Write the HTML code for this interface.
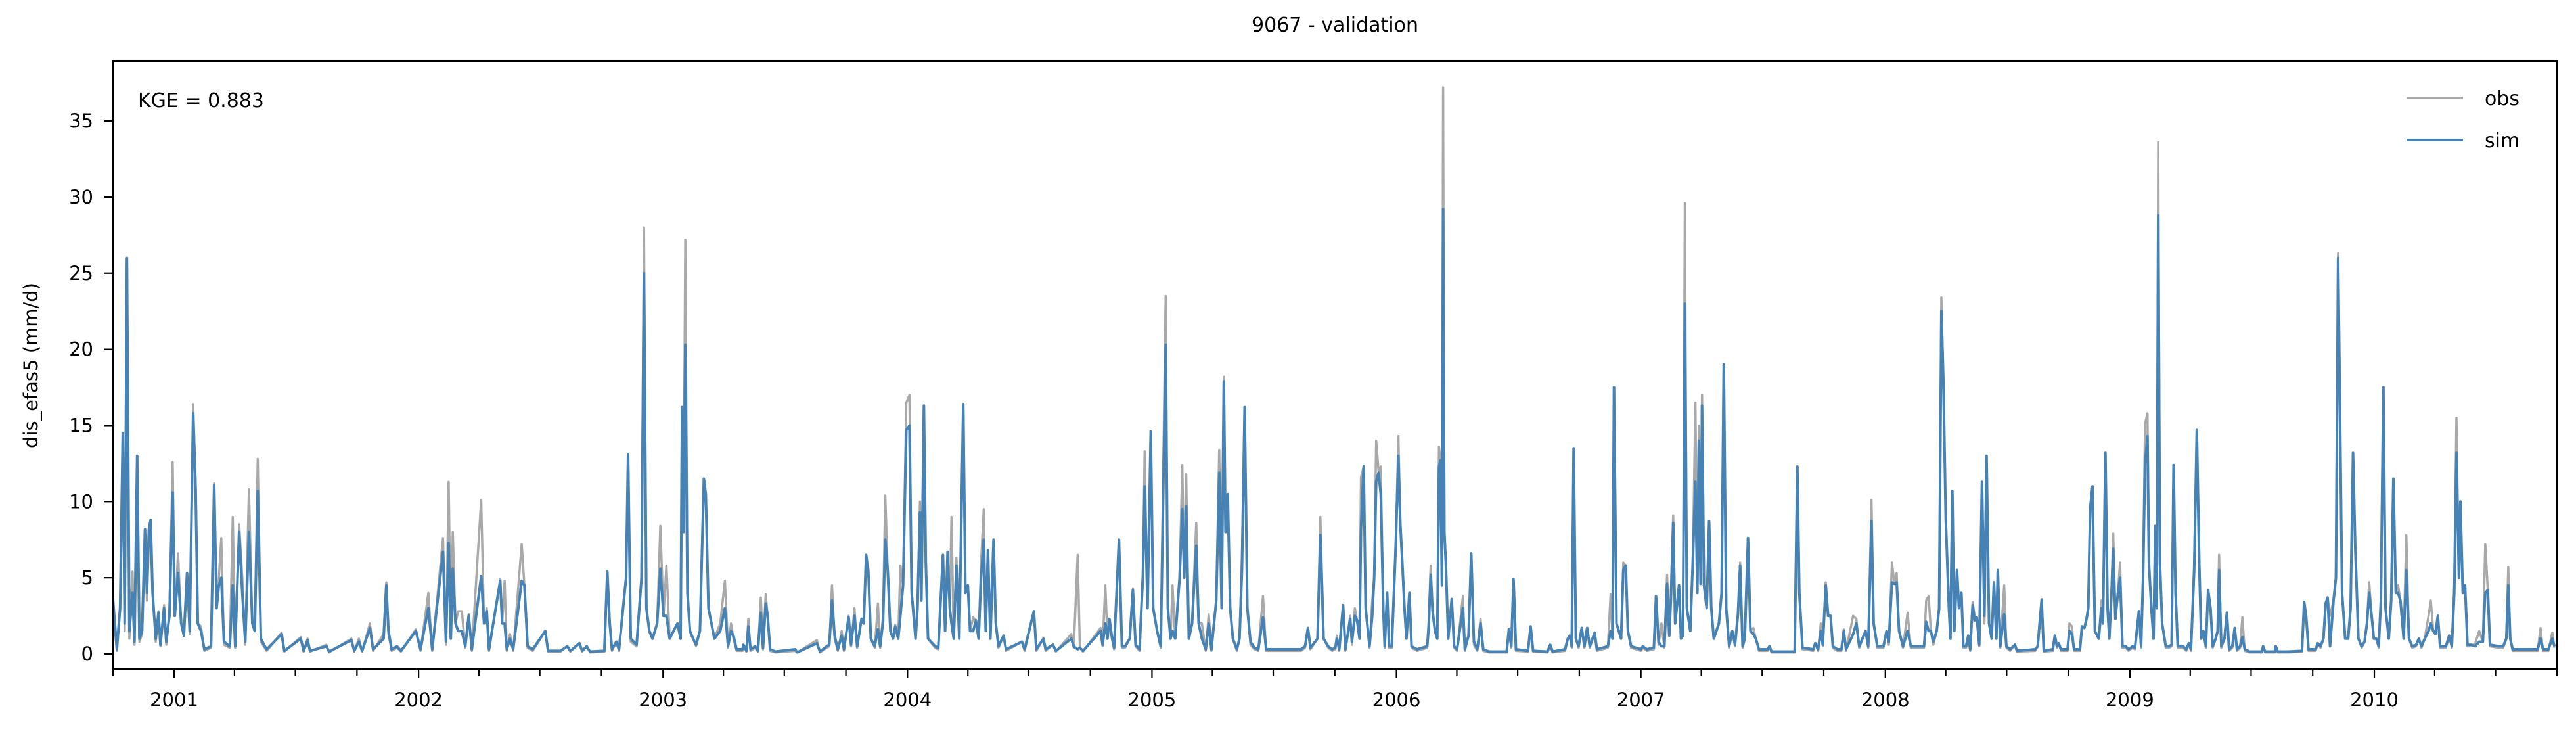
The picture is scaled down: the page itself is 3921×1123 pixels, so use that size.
<!DOCTYPE html>
<html><head><meta charset="utf-8"><style>
html,body{margin:0;padding:0;background:#fff;}
svg text{font-family:"DejaVu Sans","Liberation Sans",sans-serif;fill:#000;}
</style></head><body>
<svg id="chart" width="3921" height="1118" viewBox="0 0 3921 1118" xmlns="http://www.w3.org/2000/svg">
<rect width="3921" height="1118" fill="#fff"/>
<text x="2032" y="48" font-size="30" text-anchor="middle">9067 - validation</text>
<defs><clipPath id="plotclip"><rect x="172" y="93" width="3720" height="925"/></clipPath></defs>
<g id="series" clip-path="url(#plotclip)"></g>
<g id="axes"></g>
<rect x="172" y="93" width="3720" height="925" fill="none" stroke="#000" stroke-width="2.5"/>
<text x="210" y="163" font-size="30">KGE = 0.883</text>
<text transform="translate(57,556) rotate(-90)" font-size="29" text-anchor="middle">dis_efas5 (mm/d)</text>
<g>
<line x1="3663" y1="149" x2="3749" y2="149" stroke="#a9a9a9" stroke-width="3.5"/>
<text x="3782" y="160" font-size="30">obs</text>
<line x1="3663" y1="213" x2="3749" y2="213" stroke="#4682b4" stroke-width="4"/>
<text x="3782" y="224" font-size="30">sim</text>
</g>
</svg>
<script>
const yTicks=[0,5,10,15,20,25,30,35];
const yearTicks=[2001,2002,2003,2004,2005,2006,2007,2008,2009,2010];
const tDates=[
2000.750,2000.766,2000.779,2000.790,2000.798,2000.807,2000.817,2000.830,2000.838,2000.849,2000.858,2000.869,2000.881,2000.889,2000.897,2000.904,2000.912,2000.925,2000.936,2000.944,2000.959,2000.968,2000.981,2000.994,
2001.003,2001.016,2001.029,2001.040,2001.053,2001.064,2001.078,2001.088,2001.097,2001.110,2001.124,2001.151,2001.164,2001.174,2001.183,2001.193,2001.204,2001.228,2001.240,2001.250,2001.266,2001.279,2001.291,2001.306,2001.320,2001.330,2001.342,2001.355,2001.371,2001.379,2001.440,2001.451,2001.518,2001.530,2001.546,2001.556,2001.623,2001.634,2001.725,2001.737,2001.756,2001.769,2001.801,2001.814,2001.857,2001.868,2001.877,2001.890,2001.912,2001.928,2001.989,
2002.008,2002.040,2002.056,2002.100,2002.112,2002.123,2002.132,2002.140,2002.151,2002.162,2002.177,2002.191,2002.205,2002.218,2002.256,2002.268,2002.279,2002.288,2002.334,2002.342,2002.352,2002.361,2002.374,2002.387,2002.422,2002.433,2002.446,2002.467,2002.518,2002.530,2002.581,2002.608,2002.621,2002.658,2002.669,2002.688,2002.701,2002.760,2002.772,2002.782,2002.791,2002.809,2002.820,2002.849,2002.857,2002.868,2002.892,2002.912,2002.922,2002.932,2002.944,2002.957,2002.976,2002.989,
2003.002,2003.014,2003.027,2003.043,2003.059,2003.072,2003.078,2003.084,2003.091,2003.100,2003.110,2003.123,2003.135,2003.151,2003.167,2003.175,2003.186,2003.210,2003.234,
2003.253,2003.266,2003.278,2003.288,2003.301,2003.325,2003.329,2003.341,2003.349,2003.358,2003.377,2003.388,2003.400,2003.409,2003.420,2003.428,2003.438,2003.460,2003.540,2003.549,2003.629,2003.642,2003.670,2003.680,2003.691,2003.702,2003.715,2003.731,2003.740,2003.759,2003.769,2003.783,2003.794,2003.812,2003.821,2003.831,2003.841,2003.850,2003.866,2003.879,2003.888,2003.900,2003.909,2003.919,2003.930,2003.941,2003.950,2003.962,2003.971,2003.982,2003.995,
2004.008,2004.017,2004.033,2004.041,2004.051,2004.057,2004.067,2004.075,2004.084,2004.113,2004.126,2004.145,2004.154,2004.164,2004.173,2004.180,2004.189,2004.200,2004.212,2004.228,2004.237,2004.247,2004.256,2004.269,2004.280,2004.291,2004.301,2004.312,2004.320,2004.329,2004.339,2004.352,2004.361,2004.372,2004.393,2004.403,2004.468,2004.479,2004.517,2004.527,2004.556,2004.565,2004.595,2004.607,2004.670,2004.680,2004.696,2004.705,2004.718,2004.790,2004.798,2004.809,2004.818,2004.826,2004.837,2004.845,2004.865,2004.877,2004.890,2004.909,2004.922,2004.933,2004.949,2004.963,2004.970,2004.982,2004.995,
2005.005,2005.021,2005.036,2005.056,2005.065,2005.076,2005.084,2005.095,2005.113,2005.124,2005.132,2005.140,2005.151,2005.164,2005.181,2005.191,2005.204,2005.220,2005.232,2005.243,2005.263,2005.275,2005.285,2005.294,2005.301,2005.310,2005.320,2005.331,2005.347,2005.358,2005.368,2005.379,2005.390,2005.403,2005.419,2005.435,2005.454,2005.467,2005.610,2005.626,2005.638,2005.648,2005.677,2005.689,2005.702,2005.721,2005.737,
2005.750,2005.756,2005.766,2005.782,2005.791,2005.811,2005.818,2005.830,2005.839,2005.849,2005.855,2005.866,2005.874,2005.890,2005.901,2005.909,2005.917,2005.927,2005.936,2005.946,2005.952,2005.962,2005.970,2005.981,2005.997,
2006.008,2006.016,2006.024,2006.033,2006.041,2006.053,2006.062,2006.084,2006.126,2006.132,2006.140,2006.148,2006.158,2006.167,2006.174,2006.180,2006.186,2006.191,2006.196,2006.202,2006.212,2006.226,2006.236,2006.248,2006.272,2006.280,2006.295,2006.306,2006.317,2006.331,2006.344,2006.355,2006.379,2006.451,2006.460,2006.470,2006.479,2006.489,2006.538,2006.549,2006.559,2006.618,2006.629,2006.639,2006.690,2006.701,2006.709,2006.717,2006.725,2006.734,2006.745,2006.758,2006.769,2006.780,2006.791,2006.811,2006.820,2006.865,2006.876,2006.884,2006.890,2006.900,2006.919,2006.928,2006.938,2006.947,2006.960,
2007.000,2007.008,2007.024,2007.053,2007.062,2007.072,2007.084,2007.096,2007.107,2007.116,2007.123,2007.132,2007.140,2007.156,2007.164,2007.172,2007.180,2007.188,2007.202,2007.212,2007.223,2007.231,2007.237,2007.244,2007.250,2007.258,2007.269,2007.279,2007.288,2007.298,2007.319,2007.330,2007.339,2007.349,2007.361,2007.374,2007.385,2007.397,2007.406,2007.416,2007.425,2007.438,2007.448,2007.460,2007.470,2007.483,2007.518,2007.526,2007.534,2007.629,2007.640,2007.648,2007.661,2007.705,2007.713,2007.725,2007.736,2007.744,2007.756,2007.766,2007.776,2007.785,2007.804,2007.820,2007.830,2007.839,2007.868,2007.881,2007.893,2007.919,2007.930,2007.943,2007.952,2007.967,2007.992,
2008.005,2008.014,2008.027,2008.037,2008.046,2008.056,2008.072,2008.091,2008.104,2008.158,2008.167,2008.177,2008.186,2008.196,2008.210,2008.220,2008.229,2008.237,
2008.247,2008.260,2008.266,2008.274,2008.282,2008.293,2008.301,2008.311,2008.319,2008.330,2008.339,2008.347,2008.357,2008.365,2008.374,2008.384,2008.395,2008.405,2008.414,2008.424,2008.435,2008.444,2008.454,2008.460,2008.470,2008.486,2008.495,2008.510,2008.530,2008.538,2008.613,2008.623,2008.639,2008.648,2008.685,2008.693,2008.702,2008.709,2008.718,2008.745,2008.753,2008.763,2008.772,2008.796,2008.804,2008.814,2008.823,2008.830,2008.838,2008.847,2008.857,2008.873,2008.884,2008.890,2008.900,2008.909,2008.916,2008.925,2008.932,2008.941,2008.951,2008.960,2008.970,2008.983,2008.995,
2009.011,2009.021,2009.037,2009.046,2009.054,2009.062,2009.072,2009.078,2009.088,2009.097,2009.104,2009.110,2009.116,2009.123,2009.132,2009.147,2009.161,2009.171,2009.179,2009.187,2009.196,2009.218,2009.231,2009.241,2009.250,2009.263,2009.274,2009.284,2009.292,2009.301,2009.311,2009.320,2009.330,2009.339,2009.351,2009.359,2009.365,2009.374,2009.387,2009.397,2009.406,2009.419,2009.429,2009.438,2009.451,2009.460,2009.470,2009.489,2009.540,2009.545,2009.553,2009.593,2009.597,2009.605,2009.648,2009.704,2009.713,2009.721,2009.731,2009.760,2009.769,2009.780,2009.792,2009.801,2009.809,2009.819,2009.833,2009.843,2009.852,2009.859,2009.868,2009.881,2009.893,2009.903,2009.913,2009.922,2009.935,2009.948,2009.960,2009.970,2009.979,2009.989,2009.998,
2010.008,2010.018,2010.027,2010.037,2010.046,2010.059,2010.069,2010.078,2010.088,2010.097,2010.107,2010.120,2010.131,2010.142,2010.155,2010.171,2010.182,2010.193,2010.206,2010.222,2010.231,2010.241,2010.250,2010.260,2010.269,2010.293,2010.306,2010.317,2010.327,2010.336,2010.346,2010.352,2010.362,2010.371,2010.381,2010.397,2010.413,2010.429,2010.444,2010.454,2010.464,2010.473,2010.508,2010.527,2010.540,2010.548,2010.556,2010.566,2010.668,2010.680,2010.690,2010.712,2010.728,2010.737];
const simValues=[
3.6,0.3,3,14.5,2,26,1.5,4,0.8,13,1,1.5,8.2,4,8.2,8.8,4,1,2.7,0.6,3,0.8,2.5,10.6,
2.5,5.3,2,1.2,5.3,1.5,15.8,11,2,1.5,0.3,0.5,11.1,3,4.5,5,0.8,0.5,4.5,0.5,8,4,0.8,8,2,1.5,10.7,1,0.5,0.3,1.3,0.2,1,0.2,0.9,0.2,0.5,0.15,0.9,0.2,0.8,0.2,1.7,0.3,1,4.5,1.5,0.3,0.5,0.2,1.5,
0.3,3,0.3,6.7,0.8,7.3,1,5.6,2,1.5,1.5,0.5,2.5,0.3,5.1,2,2.8,0.3,4.8,2,2,0.3,1,0.3,4.8,4.5,0.5,0.3,1.5,0.2,0.2,0.5,0.2,0.7,0.2,0.5,0.15,0.2,5.4,2,0.3,0.8,0.3,5,13.1,1,0.6,5,25,3,1.5,1,2,5.6,
2.5,2.5,1,1.5,2,1,16.2,8,20.3,4,1.5,1,0.6,1.5,11.5,10.5,3,1,1.5,
3,0.5,1.5,1.2,0.3,0.3,0.6,0.2,1.8,0.3,0.5,0.2,2.7,0.4,3.3,2.5,0.3,0.15,0.3,0.1,0.7,0.15,0.5,0.6,3.5,1.2,0.3,1.2,0.3,2.4,0.6,2.5,0.5,2.3,2,6.5,5,1,0.5,1.6,0.5,2.1,7.5,5.5,1.5,1,1.8,1,2.5,4.5,14.7,
15,4,1,3,9.3,3.5,16.3,6,1,0.5,0.4,6.5,1.5,6.7,3,2,1,5.8,1,16.4,4,4.5,1.5,1.5,2.2,1,5,7.5,1.5,6.8,1,7.5,2,0.5,1.2,0.3,0.8,0.3,2.8,0.3,1,0.3,0.6,0.2,1,0.5,0.3,0.4,0.2,1.5,0.6,2,1,2.3,1,0.4,7.5,0.5,0.5,1,4.2,0.6,0.3,5.2,11,3,14.6,
3,1.5,0.5,20.3,3,1,1.5,1,5,9.5,5,9.7,1,2,7.1,2,1,0.3,2,0.3,3.5,11.9,3,17.9,8,10.5,3,1,0.3,1,5.5,16.2,3,0.8,0.4,0.3,2.4,0.3,0.3,0.5,1.7,0.4,1,7.8,1,0.5,0.3,
0.4,1,0.3,3.2,0.3,2.3,0.8,2.5,2.2,1,8.2,12.3,3,0.5,2.5,5,11.3,11.9,10.5,3,0.5,4,0.5,0.5,7,
13,8.5,6,3,1,4,0.5,0.3,0.5,1.8,5.2,2.8,1.5,1,12.3,12.7,4.5,29.2,8,6,1,3.6,0.5,0.3,3,0.3,1.2,6.6,0.8,0.3,2,0.3,0.15,0.15,1.6,0.5,4.9,0.3,0.2,1.8,0.2,0.15,0.6,0.15,0.3,1,1.2,0.5,13.5,1,0.5,1.7,0.5,1.7,0.5,1.4,0.3,0.5,1.5,1,17.5,2,1,5.5,5.8,1.5,0.5,
0.3,0.5,0.3,0.4,3.8,0.8,0.5,0.5,4.6,1.2,3.7,8.6,2,4.5,1,1.2,23,3,1.5,6,11.3,4,14,4.6,16.3,4.5,3,8.7,3,1,2,4,19,3,0.5,1.5,0.6,2.6,5.8,0.5,1,7.6,1.5,1.3,1,0.3,0.3,0.5,0.15,0.15,12.3,4,0.4,0.3,0.7,0.3,1.5,0.6,4.5,2.5,2.5,0.5,0.3,0.3,1.5,0.3,1.3,2,0.5,1.5,0.5,8.7,2,0.5,0.5,
1.5,0.8,4.7,4.6,4.7,1.5,0.5,1.5,0.5,0.5,2.1,1.5,1.5,0.8,1.5,3,22.5,18,
8.8,3,1,10.7,1.5,5.5,3,4,0.5,0.5,1.2,0.3,3.2,2.2,2.4,0.6,11.3,2.5,13,2,1,4.7,1,5.5,0.5,2.6,0.5,0.3,0.6,0.2,0.3,0.5,3.5,0.2,0.3,1.2,0.5,0.7,0.3,0.3,1.5,1.3,0.3,0.3,1.8,1.7,2.3,3,9.6,11,1.5,1,3,2,13.2,3,1,4,6.9,2.3,4,5,0.5,0.5,0.3,
0.5,0.4,2.8,0.5,5,12.5,14.3,6,3,1,8.4,3,28.8,6,2,0.5,0.5,0.6,12.4,4,0.5,0.5,0.3,0.7,0.3,5.5,14.7,5.8,1,1.5,0.5,4.2,3,0.5,1,1.5,5.5,0.5,1,2.7,0.3,0.5,1.7,0.3,0.5,1.1,0.3,0.15,0.15,0.5,0.15,0.15,0.5,0.15,0.15,0.2,3.4,2.5,0.3,0.3,0.7,0.5,1,3.3,3.7,0.5,3.5,5,26,17,4,1,1,3,13.2,7,1,0.5,0.8,2,4,2.5,1,
1,0.5,3.5,17.5,3,1,3.5,11.5,4,4,3.5,1,5.5,1,0.5,0.6,1,0.5,1,1.5,2,1.5,1.3,2.5,0.5,0.5,1.2,0.5,4,13.2,5,10,4,4.5,0.6,0.6,0.5,0.8,0.8,4,4.2,0.6,0.5,0.5,1,4.5,1,0.3,0.3,1,0.3,0.3,1,0.5];
const obsValues=[
3,0.2,3,14.5,1.5,26,1,5.4,0.6,13,0.8,1.3,8,3.5,8,8.8,4,0.8,2.8,0.5,3.2,0.6,2.8,12.6,
2.5,6.6,2,1.2,5.3,1.3,16.4,11.3,2,1.8,0.2,0.4,11.2,3,5,7.6,0.6,0.4,9,0.4,8.5,5,0.6,10.8,2,1.5,12.8,0.8,0.4,0.2,1.4,0.15,1.1,0.15,1,0.15,0.6,0.1,1,0.15,1,0.15,2,0.2,1.3,4.7,1.3,0.2,0.4,0.15,1.6,
0.2,4,0.2,7.6,0.6,11.3,1,8,2,2.8,2.8,0.4,2.6,0.2,10.1,2,3,0.2,4.9,2,4.8,0.2,1.3,0.2,7.2,4.5,0.4,0.2,1.5,0.15,0.15,0.5,0.15,0.7,0.15,0.5,0.1,0.15,5.4,2,0.2,0.8,0.2,5,13.1,0.8,0.5,5,28,3,1.5,1,2,8.4,
2.5,5.8,1,1.5,2,1,16.2,8,27.2,4,1.5,1,0.5,1.5,11.5,10.5,3,1,2,
4.8,0.4,2,1,0.2,0.2,0.6,0.15,2.3,0.2,0.4,0.15,3.7,0.3,3.9,2.5,0.2,0.1,0.2,0.1,0.9,0.1,0.4,0.5,4.5,1,0.2,1.5,0.2,2.5,0.5,3,0.4,2.3,2,6.5,5.5,1,0.4,3.3,0.4,2.5,10.4,5.5,1.5,1,1.9,1,5.8,4.5,16.5,
17,4,1,3.5,10,3.5,16.3,6,1,0.4,0.3,6.5,1.5,6.7,3,9,1,6.3,1,16.4,4,4.5,1.5,2.4,2.2,1,6,9.5,1.5,6.8,1,7.5,2,0.4,1.2,0.2,0.8,0.2,2.8,0.2,1,0.2,0.6,0.15,1.3,0.4,6.5,0.4,0.15,1.7,0.5,4.5,1,2.3,1,0.3,7.5,0.4,0.4,1,4.3,0.5,0.2,5.4,13.3,3,14.6,
3,1.5,0.4,23.5,3,1,4.5,1,5,12.4,5,11.8,1,2,8.6,2,2,0.2,2.6,0.2,3.5,13.4,3,18.2,8,10.5,3,1,0.2,1,6.5,16.2,3,0.6,0.3,0.2,3.8,0.2,0.2,0.4,1.7,0.3,1,9,1,0.4,0.2,
0.3,1.2,0.2,3.2,0.2,2.5,0.6,3,2.2,1,11.6,12.3,3,0.4,3.5,5,14,12,12.3,3,0.4,4,0.4,0.4,7,
14.3,8.5,6,3,1,4,0.4,0.2,0.4,2.2,5.8,2.8,1.5,1,13.6,12.7,4.5,37.2,8,6,1,3.6,0.4,0.2,3.8,0.2,1.2,6.6,0.6,0.2,2.3,0.2,0.1,0.1,1.6,0.4,4.9,0.2,0.15,1.8,0.15,0.1,0.6,0.1,0.2,1,1.2,0.4,13.5,1,0.4,1.7,0.4,1.7,0.4,1.4,0.2,0.4,3.9,1,17.5,2,1,6,5.8,1.5,0.4,
0.2,0.4,0.2,0.3,3.8,0.6,2,0.4,5.2,1.2,4,9.1,2,4.5,1,1.2,29.6,3,1.5,6,16.5,4,15,4.6,17,4.5,3,8.7,3,1,2,4,19,3,0.4,1.5,0.5,2.6,6,0.4,1,7.6,1.5,1.7,1,0.2,0.2,0.5,0.1,0.1,12.3,4,0.3,0.2,0.7,0.2,2,0.5,4.7,2.5,2.5,0.4,0.2,0.2,1.6,0.2,2.5,2.3,0.4,1.5,0.4,10.1,2,0.4,0.4,
1.5,0.6,6,4.6,5.3,1.5,0.4,2.7,0.4,0.4,3.5,3.8,1.5,0.6,1.5,3,23.4,18,
8.8,3,1,10.7,1.5,5.5,3,4,0.4,0.4,1.2,0.2,3.4,2.5,2.4,0.5,11.3,2,13,2,1,4.7,1,5.5,0.4,4.5,0.4,0.2,0.6,0.15,0.2,0.5,3.6,0.15,0.2,1.2,0.4,0.7,0.2,0.2,2,1.8,0.2,0.2,1.8,1.7,2.3,3,9.6,11,1.5,1,3.5,2,13.2,3,1,4.2,7.9,2.3,4,6,0.4,0.4,0.2,
0.4,0.3,2.8,0.4,5.1,15.1,15.8,6,3,1,8.4,3,33.6,6,2,0.4,0.4,0.5,12.4,4,0.4,0.4,0.2,0.7,0.2,5.8,14.7,6.2,1,1.5,0.4,4.2,3,0.4,1,1.5,6.5,0.4,1,2.7,0.2,0.4,1.7,0.2,0.4,2.4,0.2,0.1,0.1,0.5,0.1,0.1,0.5,0.1,0.1,0.15,3.4,2.5,0.2,0.2,0.7,0.4,1,3.3,3.7,2.5,3.5,5,26.3,17,4,1,1,3,13.2,7,1,0.4,0.8,2,4.7,2.5,1,
1,0.4,3.5,17.5,3,1,3.5,11.5,4,4.5,3.5,1,7.8,1,0.4,0.5,1,0.4,1,2.5,3.5,1.5,1.3,2.5,0.4,0.4,1.2,0.4,4.5,15.5,5,10,4,4.5,0.5,0.5,0.7,1.5,0.8,7.2,4.2,0.5,0.4,0.4,1,5.7,1,0.2,0.2,1.7,0.2,0.2,1.4,0.4];

const X0=265, X1=3614, Y0=995, PXU=23.17;
function xScale(t){return X0+(t-2001)*(X1-X0)/9;}
function yScale(v){return Y0-v*PXU;}
const NS='http://www.w3.org/2000/svg';
const series=document.getElementById('series');
const axes=document.getElementById('axes');
function mkPath(vals,color,w,name){
  let d='';
  const n=Math.min(tDates.length,vals.length);
  for(let i=0;i<n;i++){d+=(i?'L':'M')+xScale(tDates[i]).toFixed(1)+','+yScale(vals[i]).toFixed(1);}
  const p=document.createElementNS(NS,'path');
  p.setAttribute('d',d);p.setAttribute('fill','none');p.setAttribute('stroke',color);
  p.setAttribute('stroke-width',w);p.setAttribute('stroke-linejoin','round');
  
  
  series.appendChild(p);
}
mkPath(obsValues,'#a9a9a9',3.5,'obs-line');
mkPath(simValues,'#4682b4',4,'sim-line');
function ln(x1,y1,x2,y2){const l=document.createElementNS(NS,'line');l.setAttribute('x1',x1);l.setAttribute('y1',y1);l.setAttribute('x2',x2);l.setAttribute('y2',y2);l.setAttribute('stroke','#000');l.setAttribute('stroke-width',2.2);axes.appendChild(l);return l;}
function tx(x,y,s,anchor){const t=document.createElementNS(NS,'text');t.setAttribute('x',x);t.setAttribute('y',y);t.setAttribute('font-size',29);t.setAttribute('text-anchor',anchor);t.textContent=s;axes.appendChild(t);return t;}
yTicks.forEach(v=>{
  const y=yScale(v);
  const l=ln(158,y,172,y);
  
  
  const t=tx(142,y+10,String(v),'end');
  
  
});
yearTicks.forEach(yr=>{
  const x=xScale(yr);
  const l=ln(x,1018,x,1032);
  
  
  const t=tx(x,1075,String(yr),'middle');
  
  
});
for(let yr=2000;yr<=2010;yr++){
  [0.247,0.496,0.748].forEach(f=>{
    const t=yr+f;
    if(t<2000.74||t>2010.76)return;
    let x=Math.min(Math.max(xScale(t),172),3892);
    const l=ln(x,1018,x,1028);
    
    
  });
}
</script>
</body></html>
